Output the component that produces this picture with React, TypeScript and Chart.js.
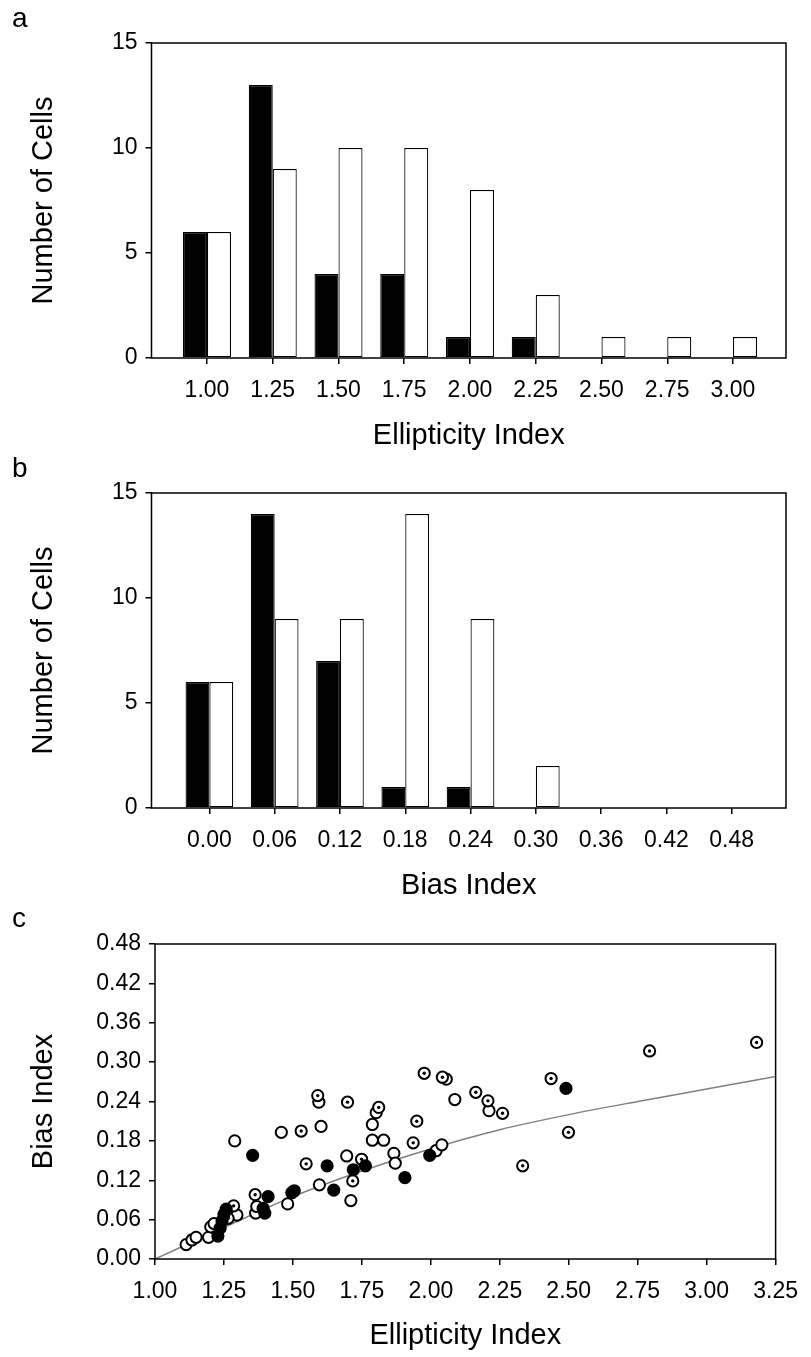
import React, { useEffect, useRef } from "react";
import { Chart, registerables } from "chart.js";

Chart.register(...registerables);

const FONT = "'Liberation Sans', Arial, sans-serif";

// ---------- Panel a : Ellipticity Index histogram ----------
const ellipticityBins = [1.0, 1.25, 1.5, 1.75, 2.0, 2.25, 2.5, 2.75, 3.0];
const ellipticityBlack = [6, 13, 4, 4, 1, 1, 0, 0, 0];
const ellipticityWhite = [6, 9, 10, 10, 8, 3, 1, 1, 1];

// ---------- Panel b : Bias Index histogram ----------
const biasBins = [0.0, 0.06, 0.12, 0.18, 0.24, 0.3, 0.36, 0.42, 0.48];
const biasBlack = [6, 14, 7, 1, 1, 0, 0, 0, 0];
const biasWhite = [6, 9, 9, 14, 9, 2, 0, 0, 0];

const countTicks = [0, 5, 10, 15];

// ---------- Panel c : scatter ----------
const scatterXTicks = [1.0, 1.25, 1.5, 1.75, 2.0, 2.25, 2.5, 2.75, 3.0, 3.25];
const scatterYTicks = [0.0, 0.06, 0.12, 0.18, 0.24, 0.3, 0.36, 0.42, 0.48];

const filledPoints: [number, number][] = [
  [1.228, 0.035], [1.236, 0.047], [1.243, 0.058], [1.25, 0.068], [1.258, 0.076],
  [1.354, 0.158], [1.392, 0.077], [1.398, 0.07], [1.41, 0.095],
  [1.496, 0.101], [1.505, 0.104], [1.624, 0.142], [1.648, 0.105],
  [1.719, 0.136], [1.763, 0.142], [1.906, 0.124], [1.996, 0.158],
  [2.49, 0.26],
];

const openPoints: [number, number][] = [
  [1.113, 0.022], [1.134, 0.029], [1.149, 0.033], [1.194, 0.033], [1.202, 0.049],
  [1.214, 0.054], [1.289, 0.18], [1.297, 0.067], [1.365, 0.07], [1.369, 0.08],
  [1.458, 0.193], [1.481, 0.084], [1.594, 0.239], [1.596, 0.113], [1.602, 0.202],
  [1.695, 0.157], [1.71, 0.089], [1.788, 0.205], [1.788, 0.181], [1.802, 0.223],
  [1.829, 0.181], [1.866, 0.161], [1.871, 0.146], [2.019, 0.165], [2.04, 0.174],
  [2.056, 0.274], [2.087, 0.243], [2.211, 0.226],
];

const dottedPoints: [number, number][] = [
  [1.265, 0.062], [1.285, 0.081], [1.363, 0.098], [1.53, 0.195], [1.548, 0.145],
  [1.59, 0.249], [1.698, 0.239], [1.717, 0.119], [1.749, 0.152], [1.811, 0.231],
  [1.936, 0.177], [1.949, 0.21], [1.976, 0.283], [2.042, 0.277], [2.163, 0.254],
  [2.207, 0.241], [2.26, 0.222], [2.333, 0.142], [2.436, 0.275], [2.499, 0.193],
  [2.793, 0.317], [3.181, 0.33],
];

const curveX = [1.0, 1.25, 1.5, 1.75, 2.0, 2.25, 2.5, 2.75, 3.0, 3.25];
const curveY = [0.0, 0.048, 0.095, 0.134, 0.168, 0.197, 0.22, 0.24, 0.259, 0.278];

// ---------- helpers ----------
const W = 811;
const H = 452;

const boxPlugin = {
  id: "boxFrame",
  afterDatasetsDraw(chart: any) {
    const { ctx, chartArea } = chart;
    const { left, top, right, bottom } = chartArea;
    ctx.save();
    ctx.strokeStyle = "#000";
    ctx.lineWidth = 1.5;
    ctx.strokeRect(left, top, right - left, bottom - top);
    ctx.restore();
  },
};

const tickFont = { family: FONT, size: 23 };
const titleFont = { family: FONT, size: 29, lineHeight: 1 };

function axisGrid() {
  return {
    display: true,
    drawOnChartArea: false,
    drawTicks: true,
    tickLength: 6,
    color: "#000",
    lineWidth: 1.5,
    offset: false,
  };
}

function xAxis(min: number, max: number, tickVals: number[], title: string, axisHeight: number) {
  return {
    type: "linear",
    min,
    max,
    offset: false,
    grid: axisGrid(),
    border: { display: false },
    afterBuildTicks: (s: any) => {
      s.ticks = tickVals.map((v) => ({ value: v }));
    },
    afterFit: (s: any) => {
      s.height = axisHeight;
    },
    ticks: {
      autoSkip: false,
      maxRotation: 0,
      padding: 13,
      color: "#000",
      font: tickFont,
      callback: (v: any) => Number(v).toFixed(2),
    },
    title: {
      display: true,
      text: title,
      color: "#000",
      font: titleFont,
      padding: { top: 0, bottom: 1.5 },
    },
  };
}

function yAxis(min: number, max: number, tickVals: number[], title: string, axisWidth: number, fmt: (v: number) => string, titlePad: number) {
  return {
    type: "linear",
    min,
    max,
    grid: axisGrid(),
    border: { display: false },
    afterBuildTicks: (s: any) => {
      s.ticks = tickVals.map((v) => ({ value: v }));
    },
    afterFit: (s: any) => {
      s.width = axisWidth;
    },
    ticks: {
      autoSkip: false,
      padding: 8,
      color: "#000",
      font: tickFont,
      callback: (v: any) => fmt(Number(v)),
    },
    title: {
      display: true,
      text: title,
      color: "#000",
      font: titleFont,
      padding: { top: titlePad, bottom: 0 },
    },
  };
}

function histConfig(bins: number[], black: number[], white: number[], min: number, max: number, title: string) {
  const toData = (vals: number[]) => bins.map((b, i) => ({ x: b, y: vals[i] === 0 ? null : vals[i] }));
  return {
    type: "bar",
    data: {
      datasets: [
        {
          data: toData(black),
          backgroundColor: "#000",
          borderColor: "#000",
          borderWidth: 1.2,
          borderSkipped: false,
          categoryPercentage: 0.73,
          barPercentage: 1,
        },
        {
          data: toData(white),
          backgroundColor: "#fff",
          borderColor: "#000",
          borderWidth: 1.2,
          borderSkipped: false,
          categoryPercentage: 0.73,
          barPercentage: 1,
        },
      ],
    },
    options: {
      responsive: false,
      animation: false,
      layout: { padding: { top: 43, right: 25, left: 0, bottom: 0 } },
      plugins: { legend: { display: false }, tooltip: { enabled: false } },
      scales: {
        x: xAxis(min, max, bins, title, 94),
        y: yAxis(0, 15, countTicks, "Number of Cells", 151.5, (v) => String(v), 29.5),
      },
    },
    plugins: [boxPlugin],
  };
}

function scatterConfig() {
  const pts = (arr: [number, number][]) => arr.map(([x, y]) => ({ x, y }));
  const R = 5.6;
  const BW = 2;
  return {
    type: "scatter",
    data: {
      datasets: [
        {
          type: "line",
          data: curveX.map((x, i) => ({ x, y: curveY[i] })),
          borderColor: "#808080",
          borderWidth: 1.5,
          pointRadius: 0,
          cubicInterpolationMode: "monotone",
          fill: false,
          order: 10,
        },
        {
          data: pts(openPoints),
          pointRadius: R,
          pointBorderWidth: BW,
          pointBackgroundColor: "#fff",
          pointBorderColor: "#000",
          order: 3,
        },
        {
          data: pts(dottedPoints),
          pointRadius: R,
          pointBorderWidth: BW,
          pointBackgroundColor: "#fff",
          pointBorderColor: "#000",
          order: 2,
        },
        {
          data: pts(dottedPoints),
          pointRadius: 1.7,
          pointBorderWidth: 0,
          pointBackgroundColor: "#000",
          pointBorderColor: "#000",
          order: 1,
        },
        {
          data: pts(filledPoints),
          pointRadius: R,
          pointBorderWidth: BW,
          pointBackgroundColor: "#000",
          pointBorderColor: "#000",
          order: 0,
        },
      ],
    },
    options: {
      responsive: false,
      animation: false,
      layout: { padding: { top: 44, right: 25, left: 0, bottom: 0 } },
      plugins: { legend: { display: false }, tooltip: { enabled: false } },
      scales: {
        x: xAxis(1.0, 3.25, scatterXTicks, "Ellipticity Index", 93),
        y: yAxis(0, 0.48, scatterYTicks, "Bias Index", 155, (v) => v.toFixed(2), 29.5),
      },
    },
    plugins: [boxPlugin],
  };
}

function Panel({ top, make }: { top: number; make: () => any }) {
  const ref = useRef<HTMLCanvasElement | null>(null);
  useEffect(() => {
    if (!ref.current) return;
    const chart = new Chart(ref.current, make());
    return () => chart.destroy();
  }, []);
  return (
    <canvas
      ref={ref}
      width={W}
      height={H}
      style={{ position: "absolute", left: 0, top, width: W, height: H, display: "block" }}
    />
  );
}

const letterStyle = (top: number): React.CSSProperties => ({
  position: "absolute",
  left: 12,
  top,
  fontFamily: FONT,
  fontSize: 28,
  lineHeight: "28px",
  color: "#000",
});

export default function App() {
  return (
    <div style={{ position: "absolute", left: 0, top: 0, width: W, height: 1357, background: "#fff", overflow: "hidden" }}>
      <Panel
        top={0}
        make={() => histConfig(ellipticityBins, ellipticityBlack, ellipticityWhite, 0.789, 3.2015, "Ellipticity Index")}
      />
      <Panel
        top={450}
        make={() => histConfig(biasBins, biasBlack, biasWhite, -0.0532, 0.5299, "Bias Index")}
      />
      <Panel top={900} make={scatterConfig} />
      <div style={letterStyle(4)}>a</div>
      <div style={letterStyle(454)}>b</div>
      <div style={letterStyle(904)}>c</div>
    </div>
  );
}
